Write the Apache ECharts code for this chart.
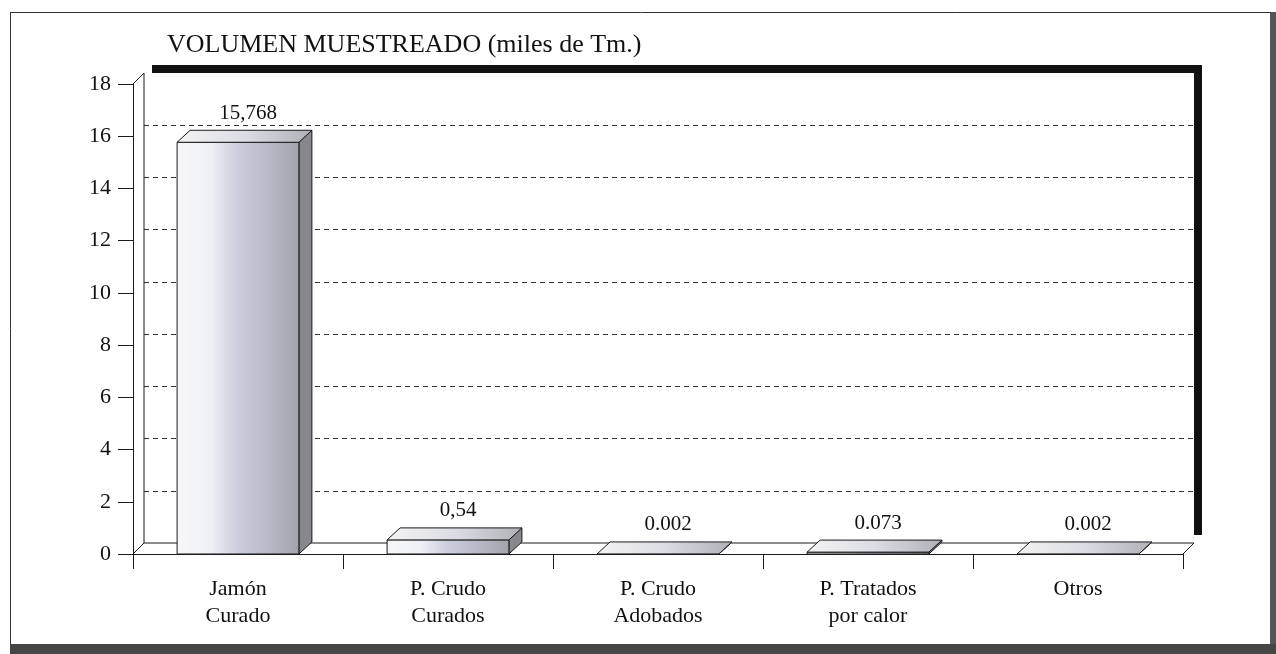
<!DOCTYPE html>
<html>
<head>
<meta charset="utf-8">
<script src="https://cdn.jsdelivr.net/npm/echarts@6/dist/echarts.min.js"></script>
<style>
  html, body { margin: 0; padding: 0; background: #fff; }
  #chart { width: 1276px; height: 654px; }
</style>
</head>
<body>
<div id="chart"></div>
<script>
// Data
const categories = ['Jamón\nCurado', 'P. Crudo\nCurados', 'P. Crudo\nAdobados', 'P. Tratados\npor calor', 'Otros'];
const values = [15.768, 0.54, 0.002, 0.073, 0.002];
const valueLabels = ['15,768', '0,54', '0.002', '0.073', '0.002'];
const yMin = 0, yMax = 18, yStep = 2;

// Layout
const FONT = '"Liberation Serif", "Times New Roman", serif';
const G = { left: 133, top: 84, width: 1050, height: 470 };
const WALL = 11;          // depth of the back wall / floor
const BAR_DX = 13, BAR_DY = -12;

const chart = echarts.init(document.getElementById('chart'));

function renderBar(params, api) {
    const i = api.value(0);
    const v = api.value(1);
    const base = api.coord([i, 0]);
    const top = api.coord([i, v]);
    const bw = api.size([1, 0])[0] * 0.58;
    const x0 = base[0] - bw / 2, x1 = base[0] + bw / 2;
    const yb = base[1], yt = top[1];

    const frontFill = new echarts.graphic.LinearGradient(0, 0, 1, 0, [
        { offset: 0, color: '#f7f7f9' },
        { offset: 0.28, color: '#eef0f5' },
        { offset: 0.5, color: '#cacddc' },
        { offset: 0.8, color: '#b3b5c1' },
        { offset: 1, color: '#a2a3aa' }
    ]);
    const topFill = new echarts.graphic.LinearGradient(0, 0, 1, 0, [
        { offset: 0, color: '#f4f4f4' },
        { offset: 0.5, color: '#dcdde4' },
        { offset: 1, color: '#b0b1b7' }
    ]);

    return {
        type: 'group',
        children: [
            {
                type: 'polygon',
                shape: { points: [[x1, yt], [x1 + BAR_DX, yt + BAR_DY], [x1 + BAR_DX, yb + BAR_DY], [x1, yb]] },
                style: { fill: '#88888c', stroke: '#1a1a1a', lineWidth: 1 }
            },
            {
                type: 'rect',
                shape: { x: x0, y: yt, width: bw, height: yb - yt },
                style: { fill: frontFill, stroke: '#1a1a1a', lineWidth: 1 }
            },
            {
                type: 'polygon',
                shape: { points: [[x0, yt], [x1, yt], [x1 + BAR_DX, yt + BAR_DY], [x0 + BAR_DX, yt + BAR_DY]] },
                style: { fill: topFill, stroke: '#1a1a1a', lineWidth: 1 }
            },
            {
                type: 'text',
                style: {
                    text: valueLabels[params.dataIndex],
                    x: base[0] + 10,
                    y: yt + BAR_DY - 17,
                    align: 'center',
                    verticalAlign: 'middle',
                    fontSize: 21,
                    fontFamily: FONT,
                    fill: '#111'
                }
            }
        ]
    };
}

const wl = G.left + WALL, wt = G.top - WALL;
const wr = G.left + G.width + WALL, wb = G.top + G.height - WALL;
const fx = G.left, fy = G.top + G.height, fr = G.left + G.width;
const line = (x1, y1, x2, y2, z) => ({
    type: 'line', z: z || 3,
    shape: { x1, y1, x2, y2 },
    style: { stroke: '#1a1a1a', lineWidth: 1 }
});

const option = {
    animation: false,
    backgroundColor: '#fff',
    title: {
        text: 'VOLUMEN MUESTREADO (miles de Tm.)',
        left: 162,
        top: 26,
        textStyle: { fontSize: 26, fontWeight: 'normal', fontFamily: FONT, color: '#111', lineHeight: 28 }
    },
    grid: [
        { left: G.left, top: G.top, width: G.width, height: G.height, outerBoundsMode: 'none' },
        { left: wl, top: wt, width: G.width, height: G.height, outerBoundsMode: 'none' }
    ],
    xAxis: [
        {
            type: 'category',
            gridIndex: 0,
            data: categories,
            axisLine: { show: true, lineStyle: { color: '#1a1a1a', width: 1 } },
            axisTick: { show: true, length: 15, lineStyle: { color: '#1a1a1a' } },
            axisLabel: { interval: 0, fontSize: 22, lineHeight: 27, margin: 22, color: '#111', fontFamily: FONT },
            splitLine: { show: false }
        },
        {
            type: 'category',
            gridIndex: 1,
            data: categories,
            show: false
        }
    ],
    yAxis: [
        {
            type: 'value',
            gridIndex: 0,
            min: yMin, max: yMax, interval: yStep,
            axisLine: { show: true, lineStyle: { color: '#1a1a1a', width: 1 } },
            axisTick: { show: true, length: 15, lineStyle: { color: '#1a1a1a' } },
            axisLabel: { fontSize: 22, margin: 22, color: '#111', fontFamily: FONT },
            splitLine: { show: false }
        },
        {
            type: 'value',
            gridIndex: 1,
            min: yMin, max: yMax, interval: yStep,
            axisLine: { show: false },
            axisTick: { show: false },
            axisLabel: { show: false },
            splitLine: {
                show: true,
                showMinLine: false,
                showMaxLine: false,
                lineStyle: { color: '#333', width: 1, type: [5, 4] }
            }
        }
    ],
    graphic: [
        // outer frame of the figure
        { type: 'rect', z: -5, shape: { x: 1270, y: 12, width: 6, height: 642 }, style: { fill: '#555' } },
        { type: 'rect', z: -5, shape: { x: 10, y: 644, width: 1266, height: 10 }, style: { fill: '#454545' } },
        { type: 'line', z: -5, shape: { x1: 10, y1: 12.5, x2: 1271, y2: 12.5 }, style: { stroke: '#333', lineWidth: 1 } },
        { type: 'line', z: -5, shape: { x1: 10.5, y1: 12, x2: 10.5, y2: 645 }, style: { stroke: '#333', lineWidth: 1 } },
        // black shadow behind the back wall, then the wall itself
        { type: 'rect', z: -2, shape: { x: wl + 8, y: wt - 8, width: G.width, height: G.height }, style: { fill: '#111' } },
        { type: 'rect', z: -1, shape: { x: wl, y: wt, width: G.width, height: G.height }, style: { fill: '#fff' } },
        // side wall and floor edges
        line(wl, wt, wl, wb),
        line(fx, G.top, wl, wt),
        line(fx, fy, wl, wb),
        line(wl, wb, wr, wb),
        line(fr, fy, wr, wb)
    ],
    series: [
        {
            type: 'custom',
            xAxisIndex: 0,
            yAxisIndex: 0,
            z: 5,
            renderItem: renderBar,
            encode: { x: 0, y: 1 },
            data: values.map((v, i) => [i, v])
        }
    ]
};

chart.setOption(option);
</script>
</body>
</html>
